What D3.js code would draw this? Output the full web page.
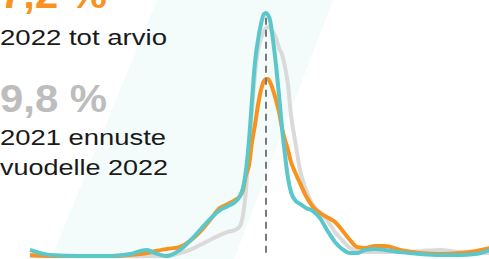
<!DOCTYPE html>
<html>
<head>
<meta charset="utf-8">
<script src="https://cdn.jsdelivr.net/npm/d3@7"></script>
<style>
  html, body { margin: 0; padding: 0; background: #fff; }
  svg { display: block; }
  text { font-family: "Liberation Sans", Arial, sans-serif; }
</style>
</head>
<body>
<svg id="chart" width="489" height="259"></svg>
<script>
// sample positions (arbitrary units along the distribution)
let xs = [0, 2, 5, 8, 10, 11, 11.7, 12.5, 13.7, 15, 16, 17, 18, 19, 19.8, 20.5, 21, 21.3,
  21.6, 21.9, 22.2, 22.5, 22.8, 23.1, 23.4, 23.6, 23.8, 24, 24.3, 24.6, 24.9, 25.2, 25.5,
  25.8, 26.1, 26.5, 27, 27.6, 28.3, 29, 29.7, 30.5, 31.2, 32, 32.7, 33.5, 34.5, 35.5, 37,
  39, 41, 43, 44.5, 46];

let toteuma = [2.5, 0.4, 0, 0, 0.8, 2, 2.5, 1.2, 0, 2.5, 6.2, 10.7, 15.2, 18.9, 20.6, 22.2,
  24.7, 28, 35.4, 47.7, 64.2, 79.8, 88.9, 95.5, 99.6, 100, 99.2, 97.1, 88.9, 78.6, 66.3,
  52.7, 41.6, 32.1, 26.3, 23, 21.4, 19.8, 18.5, 15.6, 10.7, 5.8, 2.9, 1.2, 1.2, 2.5, 2.9,
  2.5, 1.6, 0.8, 0.4, 0.4, 0.8, 2.5];

let arvio2022 = [0.4, 0, 0, 0, 0.4, 0.8, 1.2, 2, 2.9, 3.7, 6.2, 9.9, 14.8, 19.8, 21.4, 23,
  24.7, 27.2, 33.3, 37.4, 46.9, 53.9, 62.1, 68.3, 72, 72.8, 72.8, 71.6, 68.3, 64.2, 59.3,
  52.7, 47.7, 43.6, 38.7, 34.6, 30, 24.7, 20.2, 17.7, 16, 14, 10.7, 6.6, 3.7, 3.3, 4.1,
  4.1, 2.5, 1.2, 0.8, 1.2, 2, 3.3];

let ennuste2021 = [0, 0, 0, 0, 0, 0, 0, 0, 0, 1.2, 2.5, 4.5, 6.6, 8.6, 9.9, 10.7, 12.3, 16.9,
  27.2, 43.6, 60, 74.5, 84.8, 89.7, 92.6, 93.8, 94.2, 93.8, 92.2, 89.7, 85.6, 83, 77.8,
  70.4, 58, 47.7, 35.4, 27.2, 21, 17.7, 14.8, 9.9, 6.6, 3.3, 2, 1.6, 1.6, 1.6, 1.6, 2, 2.5,
  1.6, 1.2, 1.2];

let markerX = 23.6;

let labels = [
  { text: "7,2 %", kind: "big", color: "#f7931e" },
  { text: "2022 tot arvio", kind: "small", color: "#1a1a1a" },
  { text: "9,8 %", kind: "big", color: "#bdbdbd" },
  { text: "2021 ennuste", kind: "small", color: "#1a1a1a" },
  { text: "vuodelle 2022", kind: "small", color: "#1a1a1a" }
];
let labelBaselines = [8, 45, 112, 145, 175];

let svg = d3.select("#chart");

let x = d3.scaleLinear().domain([0, 46]).range([30, 490]);
let y = d3.scaleLinear().domain([0, 100]).range([256, 13]);

// light background band
svg.append("path")
  .attr("d", "M51,259 L157,0 L333,0 L234,259 Z")
  .attr("fill", "#f3fbfb");

let line = d3.line()
  .x((d, i) => x(xs[i]))
  .y(d => y(d))
  .curve(d3.curveMonotoneX);

svg.append("path")
  .datum(ennuste2021)
  .attr("d", line)
  .attr("fill", "none")
  .attr("stroke", "#dadada")
  .attr("stroke-width", 4);

svg.append("path")
  .datum(arvio2022)
  .attr("d", line)
  .attr("fill", "none")
  .attr("stroke", "#f7931e")
  .attr("stroke-width", 4);

svg.append("line")
  .attr("x1", x(markerX))
  .attr("x2", x(markerX))
  .attr("y1", y(98))
  .attr("y2", y(0))
  .attr("stroke", "#7a7a7a")
  .attr("stroke-width", 2)
  .attr("stroke-dasharray", "7,5");

svg.append("path")
  .datum(toteuma)
  .attr("d", line)
  .attr("fill", "none")
  .attr("stroke", "#5bc7ca")
  .attr("stroke-width", 4);

svg.selectAll("text.label")
  .data(labels)
  .join("text")
  .attr("class", "label")
  .attr("x", 0)
  .attr("y", (d, i) => labelBaselines[i])
  .attr("fill", d => d.color)
  .attr("font-size", d => d.kind == "big" ? 38 : 22)
  .attr("font-weight", d => d.kind == "big" ? "bold" : "normal")
  .attr("textLength", d => d.kind == "big" ? 107 : (d.text.length == 14 ? 167 : (d.text.length == 12 ? 166 : 168)))
  .attr("lengthAdjust", "spacingAndGlyphs")
  .text(d => d.text);
</script>
</body>
</html>
